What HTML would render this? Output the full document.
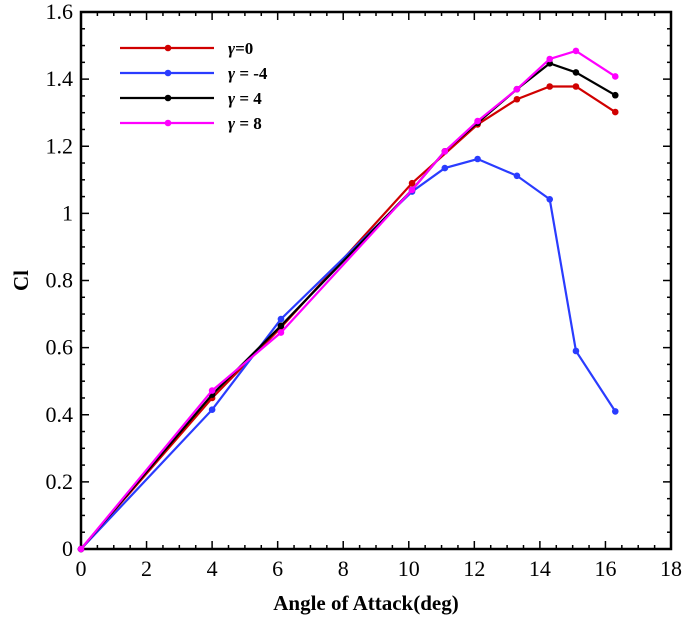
<!DOCTYPE html>
<html><head><meta charset="utf-8"><style>
body{margin:0;background:#fff}
svg text{font-family:"Liberation Serif",serif}
</style></head><body>
<svg id="chart" width="685" height="617" xmlns="http://www.w3.org/2000/svg"></svg>
<script>
const xTicks=[0,2,4,6,8,10,12,14,16,18];
const yTicks=[0,0.2,0.4,0.6,0.8,1,1.2,1.4,1.6];
const yTickLabels=["0","0.2","0.4","0.6","0.8","1","1.2","1.4","1.6"];
const seriesNames=["=0"," = -4"," = 4"," = 8"];
const seriesColors=["#d00000","#2a3cff","#000000","#ff00ff"];
const xRed=[0,4,6.1,10.1,12.1,13.3,14.3,15.1,16.3];
const yRed=[0,0.45,0.66,1.09,1.265,1.34,1.378,1.378,1.302];
const xBlue=[0,4,6.1,10.1,11.1,12.1,13.3,14.3,15.1,16.3];
const yBlue=[0,0.415,0.685,1.065,1.135,1.162,1.112,1.042,0.59,0.41];
const xBlack=[0,4,6.1,10.1,11.1,12.1,13.3,14.3,15.1,16.3];
const yBlack=[0,0.46,0.665,1.07,1.185,1.27,1.37,1.447,1.42,1.352];
const xPink=[0,4,6.1,10.1,11.1,12.1,13.3,14.3,15.1,16.3];
const yPink=[0,0.472,0.645,1.07,1.185,1.275,1.37,1.46,1.484,1.408];

const L=81,R=671,T=12,B=549;
const sx=v=>L+(v-0)/(18-0)*(R-L);
const sy=v=>B-(v-0)/(1.6-0)*(B-T);
const svg=document.getElementById('chart');
const NS="http://www.w3.org/2000/svg";
function mk(tag,attrs,parent){const e=document.createElementNS(NS,tag);for(const k in attrs)e.setAttribute(k,attrs[k]);(parent||svg).appendChild(e);return e;}

const axes=mk('g',{});


for(let v=0;v<=18.001;v+=0.5){const x=sx(v);const major=Math.abs(v-Math.round(v/2)*2)<1e-6;const len=major?8:4;
mk('line',{x1:x,y1:B,x2:x,y2:B-len,stroke:'#000','stroke-width':1.5},axes);
mk('line',{x1:x,y1:T,x2:x,y2:T+len,stroke:'#000','stroke-width':1.5},axes);}
for(let v=0;v<=1.6001;v+=0.05){const y=sy(v);const major=Math.abs(v*5-Math.round(v*5))<1e-6;const len=major?8:4;
mk('line',{x1:L,y1:y,x2:L+len,y2:y,stroke:'#000','stroke-width':1.5},axes);
mk('line',{x1:R,y1:y,x2:R-len,y2:y,stroke:'#000','stroke-width':1.5},axes);}
mk('rect',{x:L,y:T,width:R-L,height:B-T,fill:'none',stroke:'#000','stroke-width':2.5},axes);
xTicks.forEach(v=>{const t=mk('text',{x:sx(v),y:B+27,'text-anchor':'middle','font-size':22},axes);t.textContent=v;

});
yTicks.forEach((v,i)=>{const t=mk('text',{x:L-8,y:sy(v)+7,'text-anchor':'end','font-size':22},axes);t.textContent=yTickLabels[i];

});
const xt=mk('text',{x:(L+R)/2-10,y:610,'text-anchor':'middle','font-size':21,'font-weight':'bold'});xt.textContent='Angle of Attack(deg)';


const yt=mk('text',{x:28,y:(T+B)/2,'text-anchor':'middle','font-size':21,'font-weight':'bold',transform:`rotate(-90 28 ${(T+B)/2})`});yt.textContent='Cl';



const series=[[xRed,yRed],[xBlue,yBlue],[xBlack,yBlack],[xPink,yPink]];
series.forEach((s,i)=>{const g=mk('g',{});


const pts=s[0].map((x,j)=>sx(x)+','+sy(s[1][j])).join(' ');
mk('polyline',{points:pts,fill:'none',stroke:seriesColors[i],'stroke-width':2.2},g);
s[0].forEach((x,j)=>{const c=mk('circle',{cx:sx(x),cy:sy(s[1][j]),r:3.3,fill:seriesColors[i]},g);

});});

const lg=mk('g',{});


seriesNames.forEach((n,i)=>{const y=48+i*25;const e=mk('g',{},lg);


mk('line',{x1:120,y1:y,x2:214,y2:y,stroke:seriesColors[i],'stroke-width':2.2},e);
mk('circle',{cx:168,cy:y,r:3.3,fill:seriesColors[i]},e);
const t=mk('text',{x:228,y:y+6,'font-size':17,'font-weight':'bold'},e);
const g1=mk('tspan',{'font-style':'italic'},t);g1.textContent='γ';
const g2=mk('tspan',{},t);g2.textContent=n;});
</script>
</body></html>
